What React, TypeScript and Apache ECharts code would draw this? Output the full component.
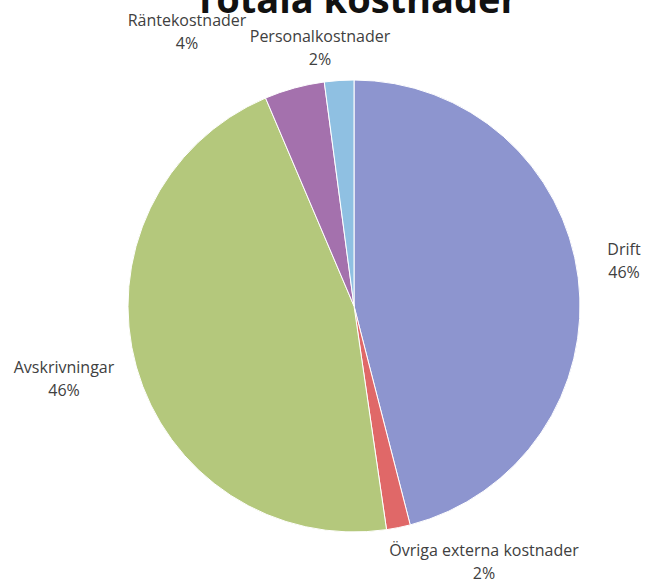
import React, { useEffect, useRef } from "react";
import * as echarts from "echarts";

const categories = ["Drift", "Övriga externa kostnader", "Avskrivningar", "Räntekostnader", "Personalkostnader"];
const values = [46.0, 1.7, 45.9, 4.3, 2.1];
const colors = ["#8D95CF", "#E06868", "#B4C87C", "#A471AD", "#8FC0E2"];
const titleText = "Totala kostnader";
// label block centres (pixel positions in the 662x588 canvas)
const labelPos: [number, number][] = [
  [624, 260],
  [484, 561],
  [64, 378],
  [187, 31],
  [320, 47],
];

export default function App() {
  const ref = useRef<HTMLDivElement>(null);
  useEffect(() => {
    if (!ref.current) return;
    const chart = echarts.init(ref.current, undefined, { renderer: "svg" });
    chart.setOption({
      animation: false,
      backgroundColor: "#ffffff",
      graphic: [
        {
          type: "text",
          x: 356,
          y: -21,
          z: 0,
          style: {
            text: titleText,
            align: "center",
            verticalAlign: "top",
            fontFamily: "Open Sans",
            fontWeight: "bold",
            fontSize: 38,
            fill: "#111111",
          },
        },
      ],
      series: [
        {
          type: "pie",
          center: [354, 306],
          radius: 226,
          startAngle: 90,
          clockwise: true,
          data: categories.map((c, i) => ({ name: c, value: values[i], itemStyle: { color: colors[i] } })),
          itemStyle: { borderColor: "#ffffff", borderWidth: 1 },
          label: {
            show: true,
            position: "outside",
            formatter: (p: any) => `${p.name}\n${Math.round(p.percent)}%`,
            fontFamily: "Open Sans",
            fontSize: 16,
            lineHeight: 23,
            color: "#404040",
            align: "center",
            overflow: "none",
            width: 300,
          },
          labelLine: { show: false },
          labelLayout: (params: any) => {
            const pos = labelPos[params.dataIndex];
            return { x: pos[0], y: pos[1], align: "center", verticalAlign: "middle" };
          },
        },
      ],
    });
    return () => chart.dispose();
  }, []);
  return <div ref={ref} style={{ position: "fixed", left: 0, top: 0, width: 662, height: 588 }} />;
}
